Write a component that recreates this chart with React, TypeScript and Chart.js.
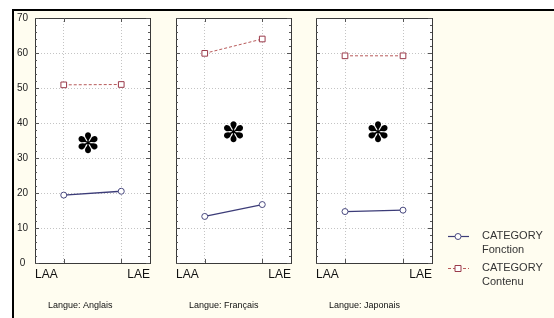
import { useEffect, useRef } from 'react';
import { Chart, registerables } from 'chart.js';
Chart.register(...registerables);

const categories = ['LAA', 'LAE'];
const panelCaptions = ['Langue: Anglais', 'Langue: Français', 'Langue: Japonais'];
const fonctionAnglais = [19.4, 20.5];
const fonctionFrancais = [13.3, 16.7];
const fonctionJaponais = [14.7, 15.1];
const contenuAnglais = [50.9, 51.0];
const contenuFrancais = [59.9, 64.0];
const contenuJaponais = [59.2, 59.2];
const yTickValues = [0, 10, 20, 30, 40, 50, 60, 70];
const starX = [1.42, 1.5, 1.57];
const starY = [34.3, 37.4, 37.4];
const legendFonction = ['CATEGORY', 'Fonction'];
const legendContenu = ['CATEGORY', 'Contenu'];

const fonctionSeries = [fonctionAnglais, fonctionFrancais, fonctionJaponais];
const contenuSeries = [contenuAnglais, contenuFrancais, contenuJaponais];

const FONT = '"Liberation Sans", Arial, sans-serif';
const C_FON = '#3c3c78';
const C_CON = '#b85a5a';

const geom = [
  { left: 14, width: 146, padL: 0, padR: 10, yW: 21 },
  { left: 160, width: 140, padL: 16, padR: 9, yW: 0 },
  { left: 300, width: 254, padL: 16, padR: 122, yW: 0 },
];
const CANVAS_TOP = 11;
const CANVAS_H = 307;

function makePlugin(i: number) {
  return {
    id: 'panelDeco' + i,
    beforeDraw(chart: any) {
      const { ctx, chartArea: a } = chart;
      ctx.save();
      ctx.fillStyle = '#ffffff';
      ctx.fillRect(a.left, a.top, a.right - a.left, a.bottom - a.top);
      ctx.restore();
    },
    afterDatasetsDraw(chart: any) {
      const { ctx, chartArea: a, scales } = chart;
      const xs = scales.x;
      const ys = scales.y;
      ctx.save();
      // frame
      ctx.strokeStyle = '#3a3a3a';
      ctx.lineWidth = 1;
      ctx.strokeRect(Math.round(a.left) + 0.5, Math.round(a.top) + 0.5, Math.round(a.right - a.left), Math.round(a.bottom - a.top));
      // inner ticks
      ctx.strokeStyle = '#555';
      ctx.beginPath();
      for (let v = 0; v <= 70; v += 2) {
        const y = Math.round(ys.getPixelForValue(v)) + 0.5;
        const len = v % 10 === 0 ? 4 : 2;
        ctx.moveTo(a.left, y); ctx.lineTo(a.left + len, y);
        ctx.moveTo(a.right, y); ctx.lineTo(a.right - len, y);
      }
      for (let j = 0; j < categories.length; j++) {
        const x = Math.round(xs.getPixelForValue(j + 1)) + 0.5;
        ctx.moveTo(x, a.top); ctx.lineTo(x, a.top + 4);
        ctx.moveTo(x, a.bottom); ctx.lineTo(x, a.bottom - 4);
      }
      ctx.stroke();
      // star
      ctx.fillStyle = '#000';
      ctx.font = 'bold 28px "DejaVu Sans"';
      ctx.textAlign = 'center';
      ctx.textBaseline = 'middle';
      ctx.fillText('✽', xs.getPixelForValue(starX[i]), ys.getPixelForValue(starY[i]) + 3);
      // caption
      ctx.font = '9px ' + FONT;
      ctx.fillStyle = '#111';
      ctx.textAlign = 'left';
      ctx.fillText(panelCaptions[i], a.left + 13, a.bottom + 43);
      // legend
      if (i === 2) {
        const lx0 = a.right + 16, lx1 = a.right + 37, mx = a.right + 26, tx = a.right + 50;
        const items = [
          { y: a.bottom - 27, text: legendFonction, color: C_FON, dash: [] as number[], shape: 'circle' },
          { y: a.bottom + 5, text: legendContenu, color: C_CON, dash: [3, 2], shape: 'rect' },
        ];
        for (const it of items) {
          ctx.strokeStyle = it.color;
          ctx.lineWidth = 1.2;
          ctx.setLineDash(it.dash);
          ctx.beginPath();
          ctx.moveTo(lx0, it.y + 0.5); ctx.lineTo(lx1, it.y + 0.5);
          ctx.stroke();
          ctx.setLineDash([]);
          ctx.fillStyle = '#fff';
          ctx.lineWidth = 1;
          ctx.beginPath();
          if (it.shape === 'circle') {
            ctx.strokeStyle = '#4a4a80';
            ctx.arc(mx, it.y + 0.5, 3, 0, Math.PI * 2);
          } else {
            ctx.strokeStyle = '#9a3a4a';
            ctx.rect(mx - 3, it.y - 2.5, 6, 6);
          }
          ctx.fill();
          ctx.stroke();
          ctx.fillStyle = '#333';
          ctx.font = '11px ' + FONT;
          ctx.textAlign = 'left';
          ctx.textBaseline = 'middle';
          ctx.fillText(it.text[0], tx, it.y);
          ctx.fillText(it.text[1], tx, it.y + 14);
        }
      }
      ctx.restore();
    },
  };
}

export default function App() {
  const refs = useRef<(HTMLCanvasElement | null)[]>([]);
  useEffect(() => {
    const charts: Chart[] = [];
    geom.forEach((g, i) => {
      const canvas = refs.current[i];
      if (!canvas) return;
      const chart = new Chart(canvas, {
        type: 'line',
        data: {
          datasets: [
            {
              label: legendFonction.join(' '),
              data: fonctionSeries[i].map((y, j) => ({ x: j + 1, y })),
              borderColor: C_FON,
              borderWidth: 1.3,
              pointStyle: 'circle',
              pointRadius: 3,
              pointBackgroundColor: '#fff',
              pointBorderColor: '#4a4a80',
              pointBorderWidth: 1,
            },
            {
              label: legendContenu.join(' '),
              data: contenuSeries[i].map((y, j) => ({ x: j + 1, y })),
              borderColor: C_CON,
              borderWidth: 1,
              borderDash: [3, 2],
              pointStyle: 'rect',
              pointRadius: 4,
              pointBackgroundColor: '#fff',
              pointBorderColor: '#9a3a4a',
              pointBorderWidth: 1,
            },
          ],
        },
        options: {
          animation: false,
          responsive: false,
          events: [],
          layout: { padding: { left: g.padL, right: g.padR, top: 7, bottom: 0 } },
          plugins: { legend: { display: false }, tooltip: { enabled: false }, title: { display: false } },
          scales: {
            x: {
              type: 'linear',
              min: 0.5,
              max: 2.5,
              afterBuildTicks: (s: any) => {
                s.ticks = [0.5, 1, 2, 2.5].map((v) => ({ value: v }));
              },
              afterFit: (s: any) => {
                s.height = 55;
                s.paddingLeft = 0;
                s.paddingRight = 0;
              },
              border: { display: false, dash: [1, 2] },
              grid: {
                drawTicks: false,
                lineWidth: 1,
                color: (c: any) => (c.tick && (c.tick.value === 1 || c.tick.value === 2) ? '#c4c4c4' : 'rgba(0,0,0,0)'),
              },
              ticks: {
                autoSkip: false,
                maxRotation: 0,
                align: 'inner',
                padding: 4,
                color: '#111',
                font: { family: FONT, size: 12 },
                callback: (v: any) => (v === 0.5 ? categories[0] : v === 2.5 ? categories[1] : ''),
              },
            },
            y: {
              min: 0,
              max: 70,
              afterBuildTicks: (s: any) => {
                s.ticks = yTickValues.map((v) => ({ value: v }));
              },
              afterFit: (s: any) => {
                s.width = g.yW;
                s.paddingTop = 0;
                s.paddingBottom = 0;
              },
              border: { display: false, dash: [1, 2] },
              grid: {
                drawTicks: false,
                color: (c: any) => (c.tick && c.tick.value > 0 && c.tick.value < 70 ? '#c4c4c4' : 'rgba(0,0,0,0)'),
              },
              ticks: {
                display: i === 0,
                crossAlign: 'center',
                padding: 7,
                color: '#222',
                font: { family: FONT, size: 10 },
              },
            },
          },
        } as any,
        plugins: [makePlugin(i)],
      });
      charts.push(chart);
    });
    return () => charts.forEach((c) => c.destroy());
  }, []);

  return (
    <div style={{ position: 'absolute', left: 0, top: 0, width: 554, height: 318, background: '#fff', overflow: 'hidden' }}>
      <div
        style={{
          position: 'absolute',
          left: 12,
          top: 9,
          right: 0,
          bottom: 0,
          borderTop: '2px solid #000',
          borderLeft: '2px solid #000',
          background: '#FFFDF0',
        }}
      />
      {geom.map((g, i) => (
        <canvas
          key={i}
          ref={(el) => {
            refs.current[i] = el;
          }}
          width={g.width}
          height={CANVAS_H}
          style={{ position: 'absolute', left: g.left, top: CANVAS_TOP, width: g.width, height: CANVAS_H }}
        />
      ))}
    </div>
  );
}
